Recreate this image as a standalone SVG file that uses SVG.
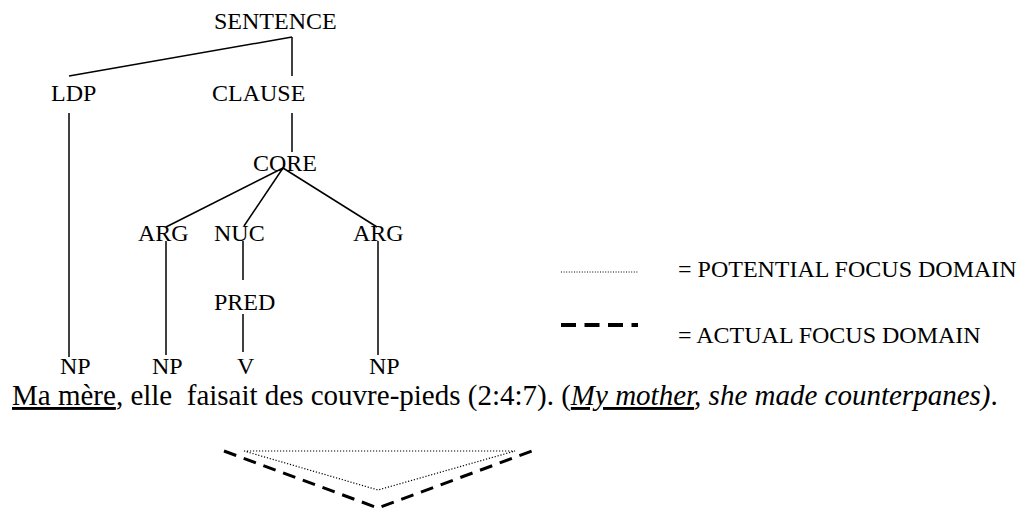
<svg xmlns="http://www.w3.org/2000/svg" width="1026" height="510" viewBox="0 0 1026 510">
<style>
text{font-family:"Liberation Serif","Times New Roman",serif;fill:#000}
.lbl{font-size:24px}
.leg{font-size:24px}
.sent{font-size:29px}
.ln{stroke:#000;stroke-width:1.5;fill:none}
.dot{stroke:#000;stroke-width:1.2;fill:none;stroke-dasharray:1.2 1.8}
.dash{stroke:#000;fill:none}
</style>
<rect width="1026" height="510" fill="#fff"/>
<g id="connectors">
<line class="ln" x1="292" y1="37" x2="69" y2="76"/>
<line class="ln" x1="292" y1="37" x2="292" y2="76"/>
<line class="ln" x1="69" y1="113" x2="69" y2="357"/>
<line class="ln" x1="292" y1="113" x2="292" y2="152"/>
<line class="ln" x1="283" y1="168" x2="166" y2="227"/>
<line class="ln" x1="283" y1="168" x2="244" y2="226"/>
<line class="ln" x1="283" y1="168" x2="377" y2="227"/>
<line class="ln" x1="166" y1="241" x2="166" y2="355"/>
<line class="ln" x1="243" y1="241" x2="243" y2="280"/>
<line class="ln" x1="243" y1="314" x2="243" y2="352"/>
<line class="ln" x1="378" y1="241" x2="378" y2="355"/>
</g>
<g id="n-sentence"><text class="lbl" x="214" y="29">SENTENCE</text></g>
<g id="n-ldp"><text class="lbl" x="51" y="101">LDP</text></g>
<g id="n-clause"><text class="lbl" x="212" y="101">CLAUSE</text></g>
<g id="n-core"><text class="lbl" x="253" y="171">CORE</text></g>
<g id="n-arg1"><text class="lbl" x="138" y="241">ARG</text></g>
<g id="n-nuc"><text class="lbl" x="214" y="241">NUC</text></g>
<g id="n-arg2"><text class="lbl" x="353" y="241">ARG</text></g>
<g id="n-pred"><text class="lbl" x="214" y="310">PRED</text></g>
<g id="n-np1"><text class="lbl" x="60" y="374">NP</text></g>
<g id="n-np2"><text class="lbl" x="152" y="374">NP</text></g>
<g id="n-v"><text class="lbl" x="237" y="374">V</text></g>
<g id="n-np3"><text class="lbl" x="369" y="374">NP</text></g>
<g id="sentence">
<text class="sent" x="12" y="405" xml:space="preserve"><tspan text-decoration="underline">Ma mère</tspan>, elle  faisait des couvre-pieds (2:4:7). (<tspan font-style="italic" text-decoration="underline">My mother</tspan><tspan font-style="italic">, she made counterpanes)</tspan>.</text>
</g>
<g id="legend">
<line class="dot" x1="561" y1="272" x2="638" y2="272" style="stroke-dasharray:1 1.6;stroke-width:1"/>
<text class="leg" x="678" y="277">= POTENTIAL FOCUS DOMAIN</text>
<line class="dash" x1="561" y1="325" x2="638" y2="325" style="stroke-width:4;stroke-dasharray:15 8.5"/>
<text class="leg" x="678" y="343">= ACTUAL FOCUS DOMAIN</text>
</g>
<g id="focus-domains">
<polygon class="dot" points="244,451 515,451 378,490"/>
<polyline class="dash" points="224,451 378,508 532,451" style="stroke-width:3;stroke-dasharray:13 8"/>
</g>
</svg>
